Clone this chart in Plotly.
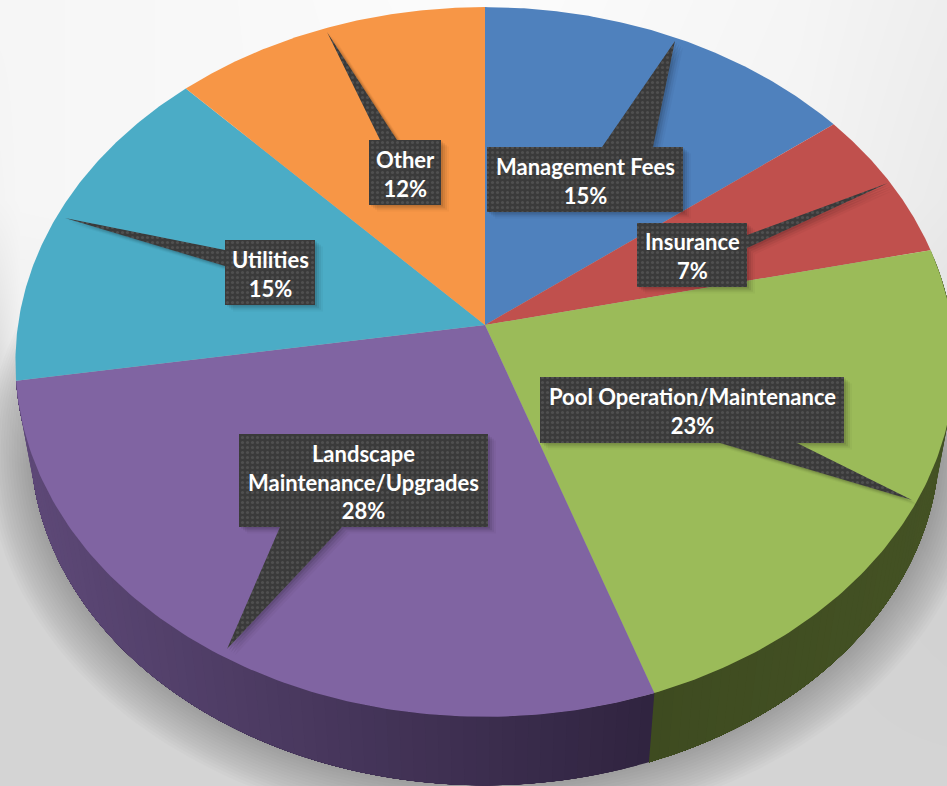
import numpy as np
import plotly.graph_objects as go

# ---- data ----
categories = ["Management Fees", "Insurance", "Pool Operation/Maintenance",
              "Landscape Maintenance/Upgrades", "Utilities", "Other"]
values = [14.6, 6.9, 23.2, 27.8, 15.4, 12.1]
label_lines = [["Management Fees"], ["Insurance"], ["Pool Operation/Maintenance"],
               ["Landscape", "Maintenance/Upgrades"], ["Utilities"], ["Other"]]
top_colors = ["#4f81bd", "#c0504d", "#9bbb59", "#8064a2", "#4bacc6", "#f79646"]
wall_left = {2: (0x3e, 0x4b, 0x20), 3: (0x5e, 0x49, 0x78)}
wall_right = {2: (0x44, 0x52, 0x24), 3: (0x30, 0x24, 0x40)}

# ---- style / layout constants ----
W, H = 947, 786
CX, CY = 485.0, 325.0
A, B, K = 467.0, 351.0, 0.1042     # perspective of the tilted disc
WALL_SCALE, WALL_DY = 0.968, 81.0

# background grey levels on a coarse grid
bg_x = [0, 20, 200, 500, 800, 947]
bg_y = [0, 200, 340, 400, 470, 786]
bg_z = [[246, 246, 248, 252, 245, 238],
        [244, 246, 248, 250, 243, 234],
        [226, 240, 240, 240, 238, 226],
        [214, 226, 226, 226, 226, 214],
        [212, 212, 212, 212, 212, 208],
        [212, 212, 212, 212, 212, 212]]

# rectangle (x0,y0,x1,y1) and pointer (base a, base b, tip) of each callout
boxes = [(487, 147, 683, 212), (637, 223, 747, 287), (540, 377, 844, 443),
         (239, 434, 488, 527), (225, 240, 315, 305), (369, 140, 441, 205)]
pointers = [((602, 147), (653, 147), (675, 41)),
            ((747, 235), (747, 248), (888, 183)),
            ((797, 443), (720, 443), (912, 500)),
            ((342, 527), (280, 527), (227, 649)),
            ((225, 250), (225, 266), (65, 218)),
            ((380, 140), (397, 140), (327, 32))]


def project(pct, scale=1.0, dy=0.0):
    t = np.asarray(pct, dtype=float) / 100 * 2 * np.pi
    x, y = np.sin(t), np.cos(t)
    d = 1 + K * y
    return CX + scale * A * x / d, CY + dy - scale * B * y / d


def polygon_outline(box, ptr):
    x0, y0, x1, y1 = box
    a, b, tip = ptr
    if a[1] == y0 and b[1] == y0:
        pts = [(x0, y0), a, tip, b, (x1, y0), (x1, y1), (x0, y1)]
    elif a[1] == y1 and b[1] == y1:
        pts = [(x0, y0), (x1, y0), (x1, y1), a, tip, b, (x0, y1)]
    elif a[0] == x1:
        pts = [(x0, y0), (x1, y0), a, tip, b, (x1, y1), (x0, y1)]
    else:
        pts = [(x0, y0), (x1, y0), (x1, y1), (x0, y1), b, tip, a]
    return [p[0] for p in pts] + [pts[0][0]], [p[1] for p in pts] + [pts[0][1]]


fig = go.Figure()


def add_fill(x, y, color):
    fig.add_trace(go.Scatter(x=x, y=y, mode="lines", fill="toself", fillcolor=color,
                             line=dict(width=0, color=color),
                             hoverinfo="skip", showlegend=False))


fig.add_trace(go.Heatmap(x=bg_x, y=bg_y, z=bg_z, zmin=0, zmax=255, zsmooth="best",
                         colorscale=[[0, "rgb(0,0,0)"], [1, "rgb(255,255,255)"]],
                         showscale=False, hoverinfo="skip"))

# soft shadow below the disc
ring = np.linspace(0, 100, 241)
for grow in range(48, 0, -3):
    sx, sy = project(ring, WALL_SCALE + grow / 520.0, WALL_DY + grow * 0.2)
    add_fill(sx, sy, "rgba(0,0,0,0.014)")

cum = np.concatenate([[0], np.cumsum(values)])

# wall: each facet runs to the end of its slice, and the next one paints over it,
# so the shading changes along the wall with no seams
for i in range(len(values)):
    if i not in wall_left:
        continue
    n = 70
    edges = np.linspace(cum[i], cum[i + 1], n + 1)
    for j in range(n):
        seg = np.linspace(edges[j], cum[i + 1], 30)
        tx, ty = project(seg)
        bx, by = project(seg[::-1], WALL_SCALE, WALL_DY)
        mx = project(edges[j])[0]
        f = (mx - 17) / (655 - 17) if i == 3 else (mx - 655) / (947 - 655)
        f = float(np.clip(f, 0, 1))
        c0, c1 = wall_left[i], wall_right[i]
        rgb = tuple(int(round(c0[k] + (c1[k] - c0[k]) * f)) for k in range(3))
        add_fill(np.r_[tx, bx], np.r_[ty, by], "rgb(%d,%d,%d)" % rgb)

# top face
for i, c in enumerate(top_colors):
    arc = np.linspace(cum[i], cum[i + 1], 120)
    ax, ay = project(arc)
    add_fill(np.r_[CX, ax, CX], np.r_[CY, ay, CY], c)

# callouts
for i in range(len(values)):
    px, py = polygon_outline(boxes[i], pointers[i])
    for off, alpha in [(8, 0.03), (6, 0.05), (4, 0.07), (2, 0.09)]:
        add_fill([v + off for v in px], [v + off * 0.8 for v in py], "rgba(0,0,0,%.2f)" % alpha)
    fig.add_trace(go.Scatter(x=px, y=py, mode="lines", fill="toself", fillcolor="#3b3b3b",
                             fillpattern=dict(shape=".", fgcolor="#4f4f4f", bgcolor="#3a3a3a",
                                              size=5, solidity=0.3, fillmode="replace"),
                             line=dict(width=0), hoverinfo="skip", showlegend=False))
    x0, y0, x1, y1 = boxes[i]
    text = "<br>".join(label_lines[i] + ["%.0f%%" % values[i]])
    fig.add_annotation(x=(x0 + x1) / 2, y=(y0 + y1) / 2 + 1, text=text, showarrow=False,
                       xref="x", yref="y", align="center",
                       font=dict(family="Lato", size=22, color="white", weight="bold"))

fig.update_xaxes(range=[0, W], visible=False, fixedrange=True)
fig.update_yaxes(range=[H, 0], visible=False, fixedrange=True)
fig.update_layout(width=W, height=H, margin=dict(l=0, r=0, t=0, b=0),
                  paper_bgcolor="#e8e8e8", plot_bgcolor="#e8e8e8", showlegend=False)
fig.write_html("out.html", post_script="document.body.style.margin='0';document.body.style.overflow='hidden';",
               config={"displayModeBar": False})
